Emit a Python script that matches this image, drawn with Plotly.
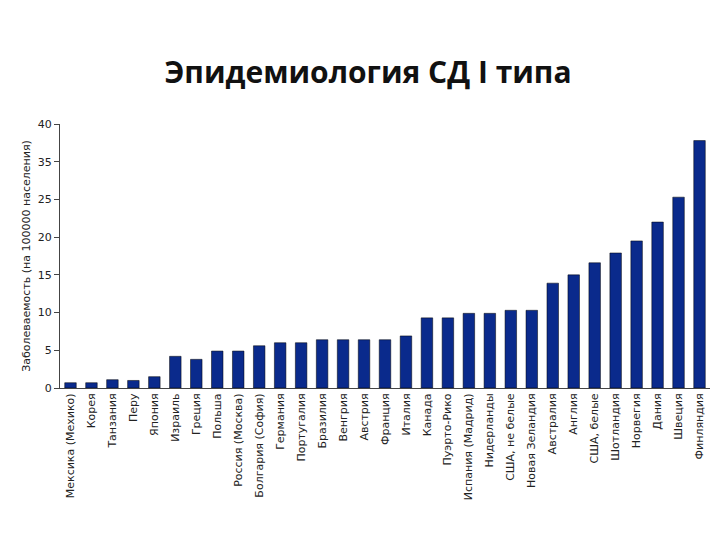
import plotly.graph_objects as go

countries = [
    "Мексика (Мехико)", "Корея", "Танзания", "Перу", "Япония", "Израиль",
    "Греция", "Польша", "Россия (Москва)", "Болгария (София)", "Германия",
    "Португалия", "Бразилия", "Венгрия", "Австрия", "Франция", "Италия",
    "Канада", "Пуэрто-Рико", "Испания (Мадрид)", "Нидерланды",
    "США, не белые", "Новая Зеландия", "Австралия", "Англия", "США, белые",
    "Шотландия", "Норвегия", "Дания", "Швеция", "Финляндия",
]
# values in axis units (the original axis skips the 30 label)
incidence = [
    0.7, 0.7, 1.1, 1.0, 1.5, 4.2, 3.8, 4.9, 4.9, 5.6, 6.0, 6.0, 6.4, 6.4,
    6.4, 6.4, 6.9, 9.3, 9.3, 9.9, 9.9, 10.3, 10.3, 13.9, 15.0, 16.6, 17.9,
    19.5, 22.0, 25.3, 32.8,
]
tick_vals = [0, 5, 10, 15, 20, 25, 30, 35]
tick_text = ["0", "5", "10", "15", "20", "25", "35", "40"]

fig = go.Figure(go.Bar(
    x=countries, y=incidence,
    marker=dict(color="#0a2a8c", line=dict(color="#000000", width=0.5)),
    width=0.55,
))

fig.update_layout(
    width=720, height=540,
    margin=dict(l=52, r=18, t=116, b=160),
    paper_bgcolor="white", plot_bgcolor="white",
    font=dict(family="DejaVu Sans", color="#222222"),
    showlegend=False,
    title=dict(text="<b>Эпидемиология СД I типа</b>", x=0.5, y=0.90,
               xanchor="center", font=dict(family="Open Sans", size=30, color="#111111")),
    xaxis=dict(tickangle=-90, tickfont=dict(size=11), showline=True,
               linecolor="#444", mirror=False, ticks=""),
    yaxis=dict(range=[0, 35], tickvals=tick_vals, ticktext=tick_text,
               tickfont=dict(size=11), showline=True, linecolor="#444",
               ticks="outside", ticklen=5, showgrid=False, zeroline=False,
               title=dict(text="Заболеваемость (на 100000 населения)",
                          font=dict(size=11), standoff=4)),
)

fig.write_html("out.html")
